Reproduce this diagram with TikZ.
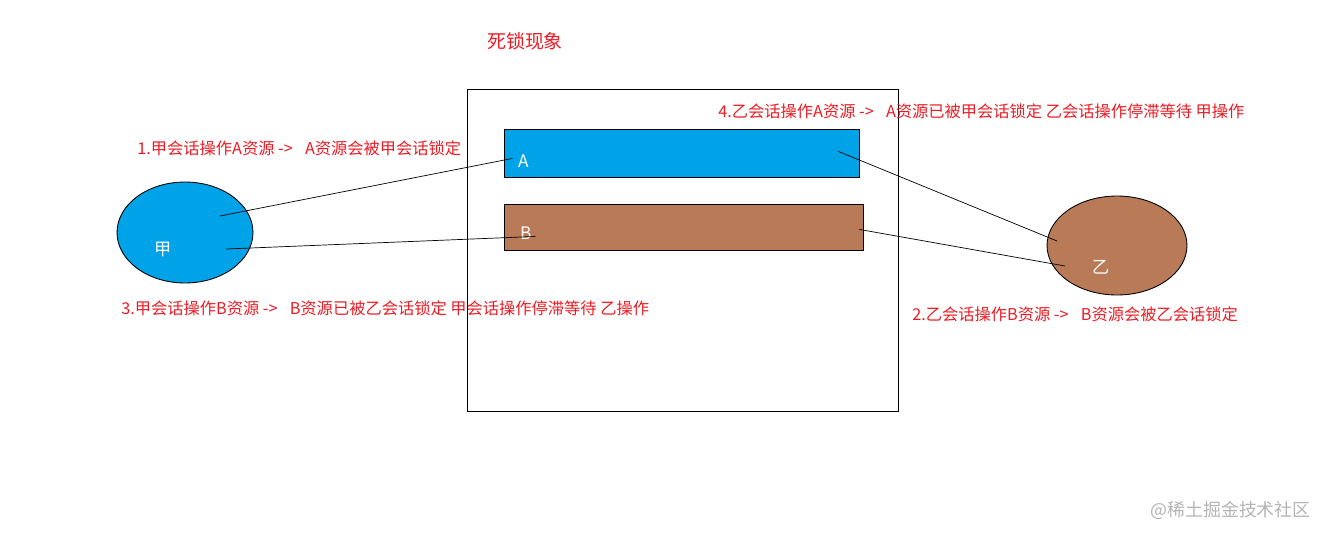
\documentclass[tikz,border=0pt]{standalone}
\usepackage{fontspec}
\setmainfont{Noto Sans CJK SC}
\usetikzlibrary{shapes.geometric}
\usetikzlibrary{calc}
\definecolor{paintred}{HTML}{ED1C24}
\definecolor{paintblue}{HTML}{00A2E8}
\definecolor{paintbrown}{HTML}{B97A57}
\definecolor{markgray}{HTML}{B4B4B4}

\newcommand{\gap}{\hspace{0.75em}}

\tikzset{
  note/.style={text=paintred, font=\fontsize{9.25}{11}\selectfont, anchor=west, inner sep=0pt},
  session/.style={ellipse, draw, line width=0.5pt, inner sep=0pt},
  res/.style={draw, line width=0.5pt, anchor=north west, inner sep=0pt},
  tag/.style={text=white, font=\fontsize{9.8}{11}\selectfont, inner sep=0pt},
}

\begin{document}
\begin{tikzpicture}[x=0.02cm, y=-0.02cm]
    \useasboundingbox (0,0) rectangle (1327,537);
    \node[note, anchor=center, font=\fontsize{10.8}{12}\selectfont] (title) at (525,41) {死锁现象};
    \draw[line width=0.5pt] (467,89) rectangle (898,411);
    % resources
    \node[res, fill=paintblue, minimum width=7.1cm, minimum height=0.96cm] (resA) at (504,129) {};
    \node[res, fill=paintbrown, minimum width=7.18cm, minimum height=0.92cm] (resB) at (504,204) {};
    \node[tag] (tagA) at ($ (resA.center) + (-158,8) $) {A};
    \node[tag] (tagB) at ($ (resB.center) + (-158,6) $) {B};
    % sessions
    \node[session, fill=paintblue, minimum width=2.72cm, minimum height=2.02cm] (jia) at (185,232.5) {};
    \node[session, fill=paintbrown, minimum width=2.8cm, minimum height=1.98cm] (yi) at (1117,245.5) {};
    \node[tag] (tagjia) at ($ (jia.center) + (-22,17) $) {甲};
    \node[tag] (tagyi) at ($ (yi.center) + (-16,22) $) {乙};
    % links
    \coordinate (jiaA) at ($ (jia.center) + (35,-16.5) $);
    \coordinate (jiaB) at ($ (jia.center) + (41,16.5) $);
    \coordinate (yiA) at ($ (yi.center) + (-60,-4.5) $);
    \coordinate (yiB) at ($ (yi.center) + (-52,20.5) $);
    \coordinate (resAin) at ($ (resA.center) + (-169.5,5) $);
    \coordinate (resAout) at ($ (resA.center) + (156.5,-2) $);
    \coordinate (resBin) at ($ (resB.center) + (-148.5,9) $);
    \coordinate (resBout) at ($ (resB.center) + (175.5,2) $);
    \draw (jiaA) -- (resAin);
    \draw (jiaB) -- (resBin);
    \draw (resAout) -- (yiA);
    \draw (resBout) -- (yiB);
    % steps
    \node[note] (step1) at (137,148) {1.甲会话操作A资源 ->\gap A资源会被甲会话锁定};
    \node[note] (step2) at (912,314) {2.乙会话操作B资源 ->\gap B资源会被乙会话锁定};
    \node[note] (step3) at (121,308) {3.甲会话操作B资源 ->\gap B资源已被乙会话锁定 甲会话操作停滞等待 乙操作};
    \node[note] (step4) at (718,111) {4.乙会话操作A资源 ->\gap A资源已被甲会话锁定 乙会话操作停滞等待 甲操作};
    \node[note, text=markgray, font=\fontsize{10.2}{12}\selectfont] (mark) at (1150,510) {@稀土掘金技术社区};
\end{tikzpicture}
\end{document}
